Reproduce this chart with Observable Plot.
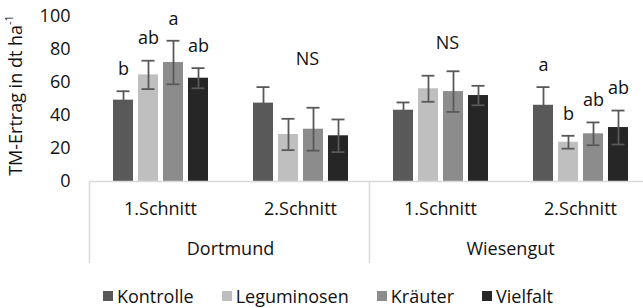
<!DOCTYPE html>
<html>
<head>
<meta charset="utf-8">
<script src="https://cdn.jsdelivr.net/npm/d3@7"></script>
<script src="https://cdn.jsdelivr.net/npm/@observablehq/plot@0.6"></script>
<style>
  body { margin: 0; background: #fff; font-family: "Open Sans", sans-serif; }
  #chart svg { display: block; }
  #legend { display: flex; justify-content: center; align-items: center; height: 24px; line-height: 24px;
            font-size: 18px; color: #111; padding-left: 13px; }
  #legend .item { display: flex; align-items: center; margin: 0 14px; }
  #legend .sw { width: 10px; height: 10px; margin-right: 4px; }
</style>
</head>
<body>
<div id="chart"></div>
<div id="legend"></div>
<script>
// ---- data ----
const locations = ["Dortmund", "Dortmund", "Wiesengut", "Wiesengut"];
const cuts = ["1.Schnitt", "2.Schnitt", "1.Schnitt", "2.Schnitt"];
const treatments = ["Kontrolle", "Leguminosen", "Kräuter", "Vielfalt"];

const kontrolle   = [49.3, 47.5, 43.2, 46.2];
const leguminosen = [64.6, 28.5, 56.2, 23.8];
const kraeuter    = [72.1, 31.7, 54.5, 28.9];
const vielfalt    = [62.6, 27.7, 52.1, 32.7];

const errKontrolle   = [5.4, 9.7, 4.7, 11.0];
const errLeguminosen = [8.6, 9.5, 7.9, 3.9];
const errKraeuter    = [13.2, 13.0, 12.3, 6.9];
const errVielfalt    = [6.1, 9.9, 5.9, 10.3];

const lettersKontrolle   = ["b", "", "", "a"];
const lettersLeguminosen = ["ab", "", "", "b"];
const lettersKraeuter    = ["a", "", "", "ab"];
const lettersVielfalt    = ["ab", "", "", "ab"];
const groupSignif = ["", "NS", "NS", ""];

const yTicks = [0, 20, 40, 60, 80, 100];
const yTitle = "TM-Ertrag in dt ha";
const yTitleSup = "-1";

const colors = ["#595959", "#bfbfbf", "#8c8c8c", "#262626"];

// ---- tables ----
const values = [kontrolle, leguminosen, kraeuter, vielfalt];
const errs = [errKontrolle, errLeguminosen, errKraeuter, errVielfalt];
const letters = [lettersKontrolle, lettersLeguminosen, lettersKraeuter, lettersVielfalt];
const groupKeys = locations.map((l, i) => l + " " + cuts[i]);

const rows = [];
groupKeys.forEach((g, i) => {
  treatments.forEach((t, j) => {
    rows.push({group: g, treatment: t, value: values[j][i], err: errs[j][i], letter: letters[j][i]});
  });
});
const groups = groupKeys.map((g, i) => ({
  group: g, loc: locations[i], cut: cuts[i], signif: groupSignif[i],
  top: d3.max(rows.filter(r => r.group === g), r => r.value + r.err),
  firstOfLoc: i === 0 || locations[i - 1] !== locations[i]
}));

const axisGray = "#d9d9d9";
const errColor = "#595959";
const textColor = "#111";

const plot = Plot.plot({
  width: 643,
  height: 284,
  marginTop: 16,
  marginBottom: 103,
  marginLeft: 89,
  marginRight: 0,
  style: {fontFamily: "'Open Sans', sans-serif", fontSize: "18px", color: textColor, background: "#fff"},
  fx: {domain: groupKeys, range: [89, 650.5], padding: 0, axis: null},
  x: {domain: treatments, paddingInner: 0.22, paddingOuter: 0.843, axis: null},
  y: {domain: [0, 100], ticks: yTicks, tickSize: 0, tickPadding: 20, label: null},
  color: {domain: treatments, range: colors},
  marks: [
    Plot.barY(rows, {fx: "group", x: "treatment", y: "value", fill: "treatment"}),
    Plot.ruleX(rows, {fx: "group", x: "treatment", y1: d => d.value - d.err, y2: d => d.value + d.err,
                      stroke: errColor, strokeWidth: 1.8}),
    Plot.tickY(rows, {fx: "group", x: "treatment", y: d => d.value - d.err, stroke: errColor, strokeWidth: 1.8, inset: 3.5}),
    Plot.tickY(rows, {fx: "group", x: "treatment", y: d => d.value + d.err, stroke: errColor, strokeWidth: 1.8, inset: 3.5}),
    Plot.ruleY([0], {stroke: axisGray, strokeWidth: 1.5}),
    Plot.text(rows.filter(d => d.letter), {fx: "group", x: "treatment", y: d => d.value + d.err, text: "letter",
                      dy: -22, lineAnchor: "middle", fill: textColor}),
    Plot.text(groups.filter(d => d.signif), {fx: "group", y: "top", text: "signif", dy: -28, dx: 7,
                      lineAnchor: "middle", fill: textColor}),
    Plot.text(groups, {fx: "group", text: "cut", frameAnchor: "bottom", dy: 28, lineAnchor: "middle", fill: textColor}),
    Plot.text(groups.filter(d => d.firstOfLoc), {fx: "group", text: "loc", frameAnchor: "bottom-right",
                      textAnchor: "middle", dy: 68, lineAnchor: "middle", fill: textColor})
  ]
});
document.getElementById("chart").appendChild(plot);

// category separators and y title, positioned through the plot's own scales
const fx = plot.scale("fx");
const ys = plot.scale("y");
const svg = d3.select(plot);
const y0 = ys.apply(0);
groups.filter(d => d.firstOfLoc).forEach(d => {
  const xx = fx.apply(d.group) - 0.5;
  svg.append("line").attr("x1", xx).attr("x2", xx).attr("y1", y0).attr("y2", y0 + 82)
     .attr("stroke", axisGray).attr("stroke-width", 1.5);
});
const yMid = (ys.apply(0) + ys.apply(100)) / 2 - 3;
const t = svg.append("text")
  .attr("transform", `translate(17,${yMid}) rotate(-90)`)
  .attr("text-anchor", "middle").attr("dominant-baseline", "middle")
  .attr("font-size", 18).attr("fill", textColor);
t.append("tspan").text(yTitle);
t.append("tspan").attr("font-size", 11).attr("dy", -7).text(yTitleSup);

// legend
const legend = d3.select("#legend");
treatments.forEach((tr, i) => {
  const it = legend.append("div").attr("class", "item");
  it.append("div").attr("class", "sw").style("background", colors[i]);
  it.append("span").text(tr);
});
</script>
</body>
</html>
